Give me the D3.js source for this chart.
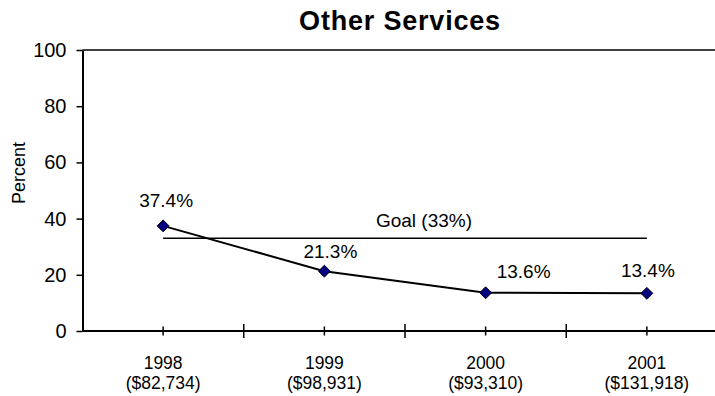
<!DOCTYPE html>
<html>
<head>
<meta charset="utf-8">
<script src="https://cdn.jsdelivr.net/npm/d3@7"></script>
<style>
  html, body { margin: 0; padding: 0; background: #fff; }
  svg { display: block; font-family: Arial, 'Liberation Sans', sans-serif; }
</style>
</head>
<body>
<div id="chart"></div>
<script>
// Data
const years = ['1998', '1999', '2000', '2001'];
const amounts = ['($82,734)', '($98,931)', '($93,310)', '($131,918)'];
const percents = [37.4, 21.3, 13.6, 13.4];
const goal = 33;
const yTicks = [0, 20, 40, 60, 80, 100];

(function () {
    const width = 715;
    const height = 396;

    const svg = d3.select('#chart')
        .append('svg')
        .attr('width', width)
        .attr('height', height);

    // Plot area — right edge runs past the picture, like the original
    const x = d3.scaleBand()
        .domain(years)
        .range([82.5, 727.5]);
    const y = d3.scaleLinear()
        .domain([0, 100])
        .range([331, 50]);
    const cx = d => x(d) + x.bandwidth() / 2;

    // Title
    svg.append('text')
        .attr('x', 400)
        .attr('y', 30)
        .attr('text-anchor', 'middle')
        .attr('font-size', '27px')
        .attr('font-weight', 'bold')
        .attr('letter-spacing', '0.8px')
        .text('Other Services');

    // Y label
    svg.append('text')
        .attr('transform', 'translate(25,173) rotate(-90)')
        .attr('text-anchor', 'middle')
        .attr('font-size', '18px')
        .text('Percent');

    // Top border of the plot area
    svg.append('line')
        .attr('x1', x.range()[0]).attr('x2', width)
        .attr('y1', y(100)).attr('y2', y(100))
        .attr('stroke', '#000')
        .attr('stroke-width', 1.5);

    // Y axis
    const yAxis = svg.append('g')
        .attr('transform', `translate(${x.range()[0]},0)`)
        .call(d3.axisLeft(y).tickValues(yTicks).tickSize(6).tickSizeOuter(0).tickPadding(10));
    yAxis.select('.domain').attr('stroke-width', 2);
    yAxis.selectAll('.tick line').attr('stroke-width', 1.5);
    yAxis.selectAll('.tick text')
        .attr('font-size', '20px')
        .attr('font-family', 'Arial, Liberation Sans, sans-serif')
        .attr('fill', '#000');

    // X axis line
    svg.append('line')
        .attr('x1', x.range()[0]).attr('x2', width)
        .attr('y1', y(0)).attr('y2', y(0))
        .attr('stroke', '#000')
        .attr('stroke-width', 2);

    // Small ticks on category centres, tall ticks on category edges
    svg.append('g')
        .selectAll('line')
        .data(years)
        .join('line')
        .attr('x1', cx).attr('x2', cx)
        .attr('y1', y(0) - 4.5).attr('y2', y(0) + 4.5)
        .attr('stroke', '#000')
        .attr('stroke-width', 1.5);

    svg.append('g')
        .selectAll('line')
        .data(years.slice(1))
        .join('line')
        .attr('x1', d => x(d)).attr('x2', d => x(d))
        .attr('y1', y(0) - 7).attr('y2', y(0) + 7)
        .attr('stroke', '#000')
        .attr('stroke-width', 1.5);

    // Category labels (two lines)
    const catLabel = svg.append('g')
        .selectAll('text')
        .data(years)
        .join('text')
        .attr('text-anchor', 'middle')
        .attr('font-size', '17.5px');
    catLabel.append('tspan')
        .attr('x', cx).attr('y', 369)
        .text(d => d);
    catLabel.append('tspan')
        .attr('x', cx).attr('y', 388.5)
        .text((d, i) => amounts[i]);

    // Goal line from first to last category
    svg.append('line')
        .attr('x1', cx(years[0])).attr('x2', cx(years[years.length - 1]))
        .attr('y1', y(goal)).attr('y2', y(goal))
        .attr('stroke', '#000')
        .attr('stroke-width', 1.5);

    svg.append('text')
        .attr('x', (cx(years[1]) + cx(years[2])) / 2 + 19)
        .attr('y', y(goal) - 11)
        .attr('text-anchor', 'middle')
        .attr('font-size', '19px')
        .text(`Goal (${goal}%)`);

    // Series line
    const pts = years.map((d, i) => [cx(d), y(percents[i])]);
    svg.append('path')
        .attr('d', d3.line()(pts))
        .attr('fill', 'none')
        .attr('stroke', '#000')
        .attr('stroke-width', 2);

    // Diamond markers
    svg.append('g')
        .selectAll('path')
        .data(pts)
        .join('path')
        .attr('transform', d => `translate(${d[0]},${d[1]})`)
        .attr('d', d3.symbol(d3.symbolDiamond2, 90)())
        .attr('fill', '#000080')
        .attr('stroke', '#000')
        .attr('stroke-width', 1);

    // Value labels, nudged like the original layout
    const labelNudge = [[3, -19], [6, -13], [38, -15], [1, -16]];
    svg.append('g')
        .selectAll('text')
        .data(pts)
        .join('text')
        .attr('x', (d, i) => d[0] + labelNudge[i][0])
        .attr('y', (d, i) => d[1] + labelNudge[i][1])
        .attr('text-anchor', 'middle')
        .attr('font-size', '19px')
        .text((d, i) => percents[i].toFixed(1) + '%');
})();
</script>
</body>
</html>
